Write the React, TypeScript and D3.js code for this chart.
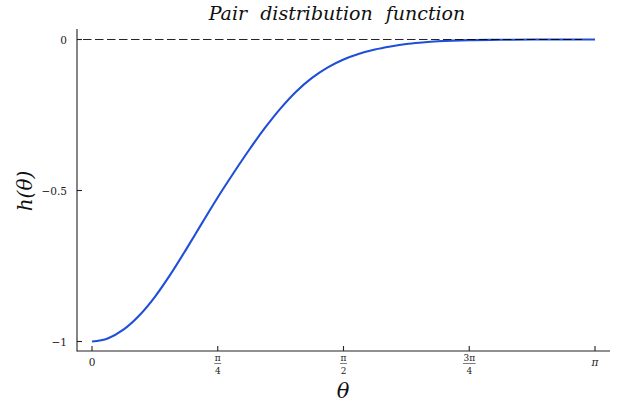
import React, { useEffect, useRef } from 'react';
import * as d3 from 'd3';

// values (theta in radians, h(theta))
const THETA = [
  0, 0.098, 0.196, 0.295, 0.393, 0.491, 0.589, 0.687, 0.785, 0.884, 0.982,
  1.08, 1.178, 1.276, 1.374, 1.473, 1.571, 1.669, 1.767, 1.865, 1.963, 2.062,
  2.16, 2.356, 2.553, 2.749, 2.945, 3.1416,
];
const H = [
  -1.0, -0.99, -0.961, -0.914, -0.852, -0.777, -0.694, -0.608, -0.523, -0.442,
  -0.365, -0.293, -0.228, -0.172, -0.127, -0.092, -0.066, -0.047, -0.033,
  -0.023, -0.015, -0.01, -0.006, -0.002, -0.001, 0, 0, 0,
];

const Y_TICKS = [0, -0.5, -1];
const Y_TICK_LABELS = ['0', '\u22120.5', '\u22121'];
const X_TICKS = [0, Math.PI / 4, Math.PI / 2, (3 * Math.PI) / 4, Math.PI];
const X_TICK_NUM = ['0', '\u03c0', '\u03c0', '3\u03c0', '\u03c0'];
const X_TICK_DEN = ['', '4', '2', '4', ''];

const TITLE = 'Pair distribution function';

export default function App() {
  const svgRef = useRef<SVGSVGElement>(null);

  useEffect(() => {
    if (!svgRef.current) return;
    const svg = d3.select(svgRef.current);
    svg.selectAll('*').remove();

    const width = 633;
    const height = 410;
    svg.attr('width', width).attr('height', height).attr('viewBox', `0 0 ${width} ${height}`);

    const font = "'DejaVu Serif', 'Liberation Serif', serif";

    const x = d3.scaleLinear().domain([0, Math.PI]).range([92, 595]);
    const y = d3.scaleLinear().domain([-1, 0]).range([341.5, 39.5]);

    // frame
    const left = 77, right = 610, top = 29, bottom = 351;

    svg.append('rect').attr('width', width).attr('height', height).attr('fill', '#ffffff');

    // title
    svg.append('text')
      .attr('x', 337).attr('y', 20)
      .attr('text-anchor', 'middle')
      .attr('font-family', font)
      .attr('font-style', 'italic')
      .attr('font-size', 19)
      .attr('word-spacing', 7)
      .attr('fill', '#111')
      .text(TITLE);

    // axes
    const axisG = svg.append('g').attr('stroke', '#222').attr('stroke-width', 1.1);
    axisG.append('line').attr('x1', left).attr('x2', left).attr('y1', top).attr('y2', bottom + 0.5);
    axisG.append('line').attr('x1', left).attr('x2', right).attr('y1', bottom).attr('y2', bottom);

    // y ticks
    Y_TICKS.forEach((v, i) => {
      axisG.append('line')
        .attr('x1', left).attr('x2', left + 5)
        .attr('y1', y(v)).attr('y2', y(v));
      svg.append('text')
        .attr('x', 67).attr('y', y(v) + 4)
        .attr('text-anchor', 'end')
        .attr('font-family', font)
        .attr('font-size', 10.5)
        .attr('fill', '#222')
        .text(Y_TICK_LABELS[i]);
    });

    // x ticks
    X_TICKS.forEach((v, i) => {
      const px = x(v);
      axisG.append('line')
        .attr('x1', px).attr('x2', px)
        .attr('y1', bottom).attr('y2', bottom - 5);
      const g = svg.append('g')
        .attr('font-family', font)
        .attr('fill', '#222')
        .attr('text-anchor', 'middle');
      if (X_TICK_DEN[i] === '') {
        g.append('text')
          .attr('x', px).attr('y', 366)
          .attr('font-size', 10.5)
          .attr('font-style', X_TICK_NUM[i] === '0' ? 'normal' : 'italic')
          .text(X_TICK_NUM[i]);
      } else {
        const num = g.append('text')
          .attr('x', px).attr('y', 361)
          .attr('font-size', 9)
          .text(X_TICK_NUM[i]);
        const w = (num.node() as SVGTextElement).getComputedTextLength();
        g.append('line')
          .attr('x1', px - w / 2 - 0.5).attr('x2', px + w / 2 + 0.5)
          .attr('y1', 363.5).attr('y2', 363.5)
          .attr('stroke', '#222').attr('stroke-width', 0.6);
        g.append('text')
          .attr('x', px).attr('y', 374)
          .attr('font-size', 9)
          .text(X_TICK_DEN[i]);
      }
    });

    // axis labels
    svg.append('text')
      .attr('x', 343).attr('y', 398)
      .attr('text-anchor', 'middle')
      .attr('font-family', font)
      .attr('font-style', 'italic')
      .attr('font-size', 21)
      .attr('fill', '#111')
      .text('\u03b8');

    svg.append('text')
      .attr('transform', `translate(32, 191) rotate(-90)`)
      .attr('text-anchor', 'middle')
      .attr('font-family', font)
      .attr('font-style', 'italic')
      .attr('font-size', 20)
      .attr('fill', '#111')
      .text('h(\u03b8)');

    // curve
    const pts: [number, number][] = THETA.map((t, i) => [t, H[i]]);
    const line = d3.line<[number, number]>()
      .x(d => x(d[0]))
      .y(d => y(d[1]))
      .curve(d3.curveMonotoneX);

    svg.append('path')
      .datum(pts)
      .attr('d', line)
      .attr('fill', 'none')
      .attr('stroke', '#1f4fd8')
      .attr('stroke-width', 2.1)
      .attr('stroke-linejoin', 'round');

    // zero reference line
    svg.append('line')
      .attr('x1', 83).attr('x2', 582)
      .attr('y1', y(0)).attr('y2', y(0))
      .attr('stroke', '#000')
      .attr('stroke-width', 1.1)
      .attr('stroke-dasharray', '8.5,3.5')
      .attr('opacity', 0.85);
  }, []);

  return (
    <svg
      ref={svgRef}
      style={{ position: 'absolute', left: 0, top: 0, display: 'block' }}
    />
  );
}
